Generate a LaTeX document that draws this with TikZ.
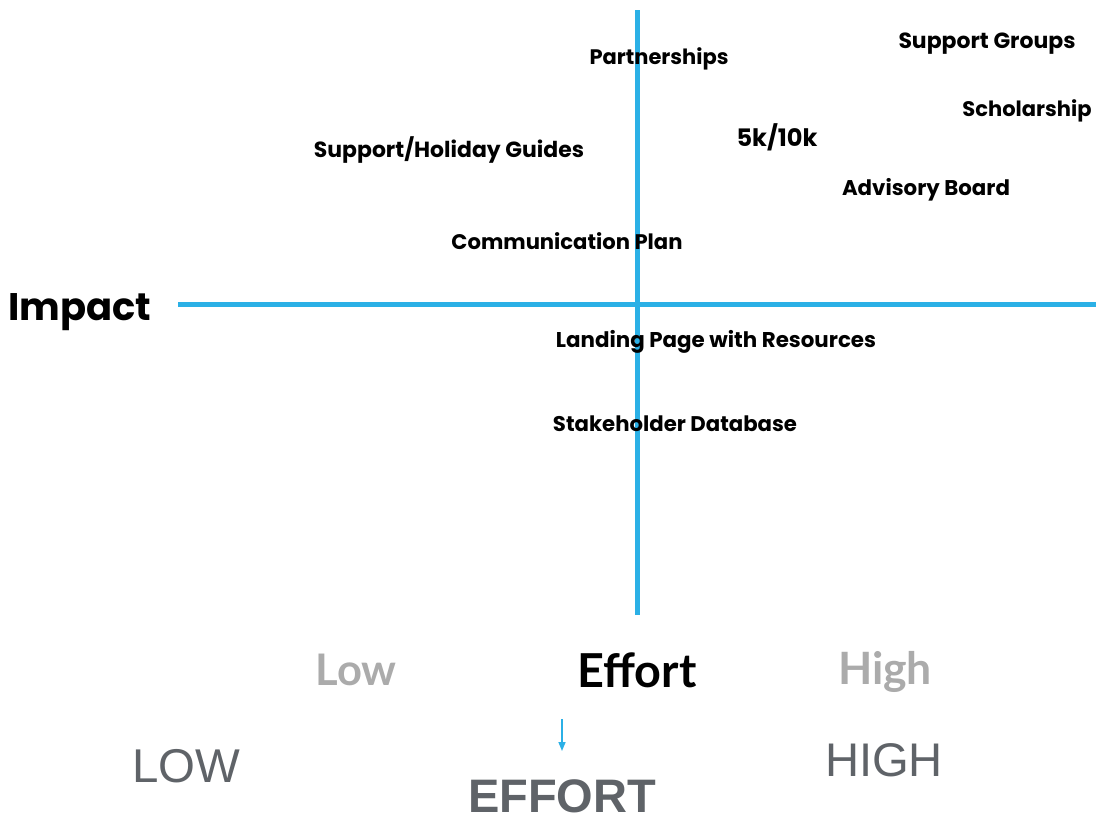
\documentclass[tikz,border=0pt]{standalone}
\usepackage{fontspec}
\usepackage{graphicx}
\setmainfont{Liberation Sans}
\newfontfamily\labfont{Poppins}
\newfontfamily\latofont{Lato}
\definecolor{axisblue}{HTML}{2BB0E6}
\definecolor{lightgray}{HTML}{ABABAB}
\definecolor{darkgray}{HTML}{5F6368}
\newcommand{\fitw}[2]{\resizebox{#1pt}{!}{#2}}
\usetikzlibrary{arrows.meta}
\tikzset{
  lab/.style={inner sep=0pt, font=\labfont\bfseries, text=black, anchor=center},
  axis/.style={draw=axisblue, line width=5pt},
  effortlab/.style={inner sep=0pt, font=\latofont\bfseries, anchor=center},
  bigcap/.style={inner sep=0pt, font=\fontsize{50}{50}\selectfont, text=darkgray, anchor=center}
}
\begin{document}
\begin{tikzpicture}[x=1pt,y=-1pt]
\useasboundingbox (0,0) rectangle (1102,820);
% axes
\coordinate (vt) at (637,10);
\coordinate (vb) at (637,615);
\coordinate (hl) at (178,304);
\coordinate (hr) at (1096,304);
\draw[axis] (vt) -- (vb);
\draw[axis] (hl) -- (hr);
% labels
\node[lab] (partner) at (659,59) {\fitw{139}{Partnerships}};
\node[lab] (supgrp) at (987,44) {\fitw{177}{Support Groups}};
\node[lab] (schol) at (1027,111) {\fitw{129}{Scholarship}};
\node[lab] (guides) at (449,150) {\fitw{270}{Support/Holiday Guides}};
\node[lab] (fivek) at (777,137) {\fitw{81}{5k/10k}};
\node[lab] (advis) at (926,190) {\fitw{168}{Advisory Board}};
\node[lab] (comm) at (567,241) {\fitw{231}{Communication Plan}};
\node[lab] (impact) at (80,312) {\fitw{143}{Impact}};
\node[lab] (landing) at (716,342) {\fitw{320}{Landing Page with Resources}};
\node[lab] (stake) at (675,424) {\fitw{244}{Stakeholder Database}};
% effort row
\node[effortlab, text=lightgray] (low) at (356,670) {\fitw{81}{Low}};
\node[effortlab, text=black] (effort) at (637,670) {\fitw{119}{Effort}};
\node[effortlab, text=lightgray] (high) at (885,672) {\fitw{94}{High}};
% bottom
\coordinate (arrtop) at (562,719);
\coordinate (arrbot) at (562,751);
\draw[axisblue, line width=1.5pt, -{Triangle[length=9pt,width=7pt]}] (arrtop) -- (arrbot);
\node[bigcap] (LOW) at (186,766) {\fitw{108}{LOW}};
\node[bigcap] (HIGH) at (884,760) {\fitw{118}{HIGH}};
\node[bigcap, font=\fontsize{50}{50}\selectfont\bfseries, anchor=north] (EFFORT) at (562,779) {\fitw{188}{EFFORT}};
\end{tikzpicture}
\end{document}
